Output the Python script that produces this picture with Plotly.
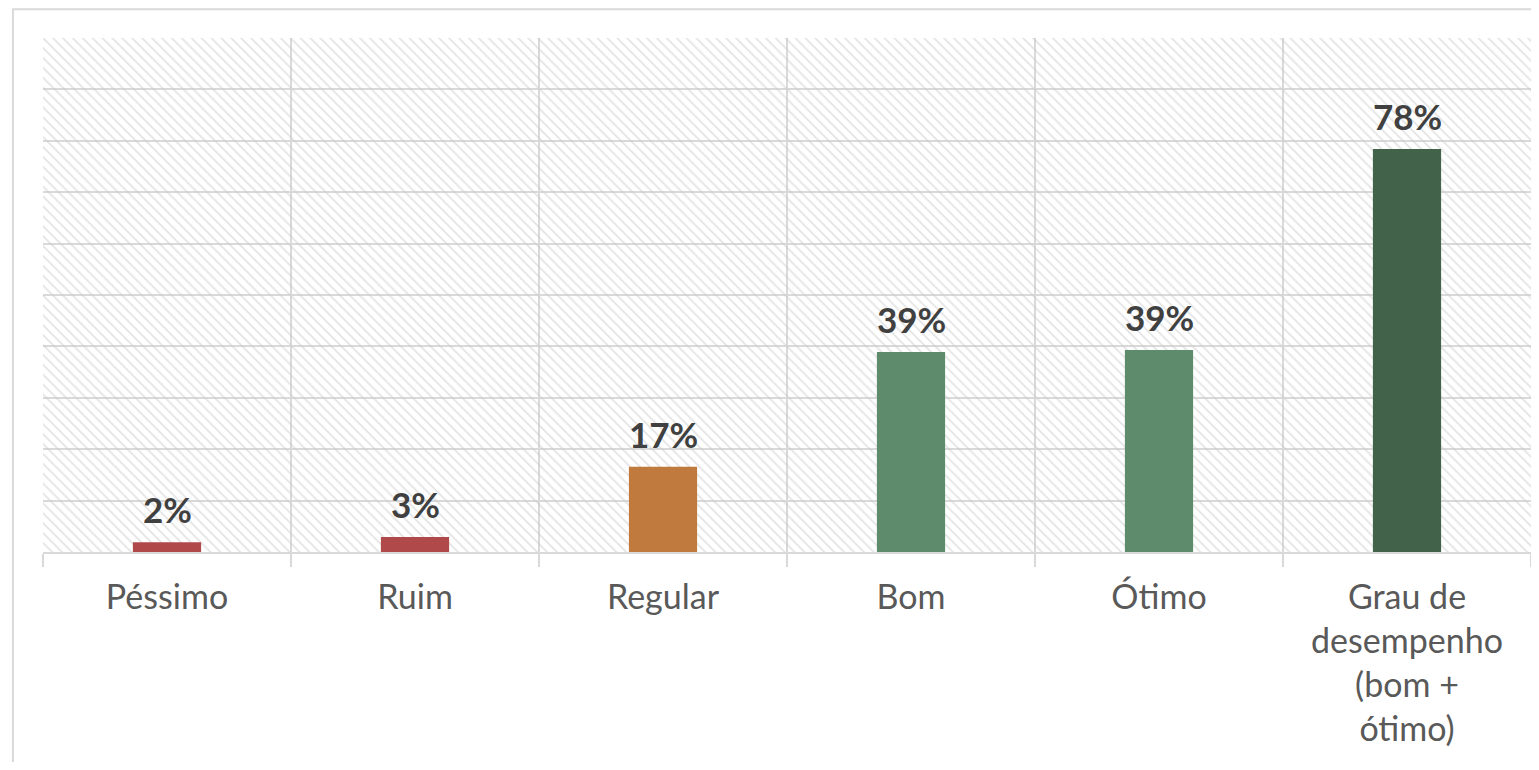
import plotly.graph_objects as go

categorias = ["Péssimo", "Ruim", "Regular", "Bom", "Ótimo",
              "Grau de<br>desempenho<br>(bom +<br>ótimo)"]
valores = [1.9, 2.9, 16.6, 38.9, 39.3, 78.4]
rotulos = ["2%", "3%", "17%", "39%", "39%", "78%"]
cores = ["#B04A4A", "#B04A4A", "#C07A3E", "#5E8B6B", "#5E8B6B", "#42624A"]
eixo_max = 100

fig = go.Figure()

# fundo hachurado da área do gráfico
fig.add_trace(go.Bar(
    x=categorias,
    y=[eixo_max] * len(categorias),
    width=1,
    marker=dict(
        color="rgba(0,0,0,0)",
        line=dict(width=0),
        pattern=dict(shape="\\", fgcolor="#c9c9c9", bgcolor="rgba(0,0,0,0)",
                     size=7, solidity=0.25, fillmode="overlay"),
    ),
    hoverinfo="skip",
    showlegend=False,
))

# barras
fig.add_trace(go.Bar(
    x=categorias,
    y=valores,
    width=0.275,
    marker=dict(color=cores, line=dict(width=0)),
    showlegend=False,
    hovertemplate="%{y:.1f}%<extra></extra>",
))

# rótulos de dados
for cat, val, txt in zip(categorias, valores, rotulos):
    fig.add_annotation(
        x=cat, y=val, text=f"<b>{txt}</b>", showarrow=False,
        yanchor="bottom", yshift=10,
        font=dict(family="Lato, sans-serif", size=35, color="#404040"),
    )

# moldura externa
fig.add_shape(
    type="rect", xref="paper", yref="paper",
    x0=-0.0202, x1=1.02, y0=-0.5, y1=1.056,
    line=dict(color="#d9d9d9", width=2), fillcolor="rgba(0,0,0,0)",
    layer="below",
)

fig.update_layout(
    width=1523, height=754,
    margin=dict(l=35, r=0, t=30, b=210),
    barmode="overlay",
    plot_bgcolor="white",
    paper_bgcolor="white",
    font=dict(family="Lato, sans-serif", color="#595959"),
)

fig.update_xaxes(
    type="category",
    tickson="boundaries",
    showgrid=True, gridcolor="#d9d9d9", gridwidth=2,
    ticks="outside", ticklen=13, tickcolor="#d9d9d9", tickwidth=2,
    showline=True, linecolor="#d9d9d9", linewidth=2,
    tickfont=dict(family="Lato, sans-serif", size=34, color="#595959"),
    ticklabelstandoff=14,
    range=[-0.5, len(categorias) - 0.5],
)

fig.update_yaxes(
    range=[0, eixo_max], dtick=10,
    showgrid=True, gridcolor="#d9d9d9", gridwidth=2,
    showticklabels=False, zeroline=False,
    showline=False,
)

fig.write_html("out.html")
